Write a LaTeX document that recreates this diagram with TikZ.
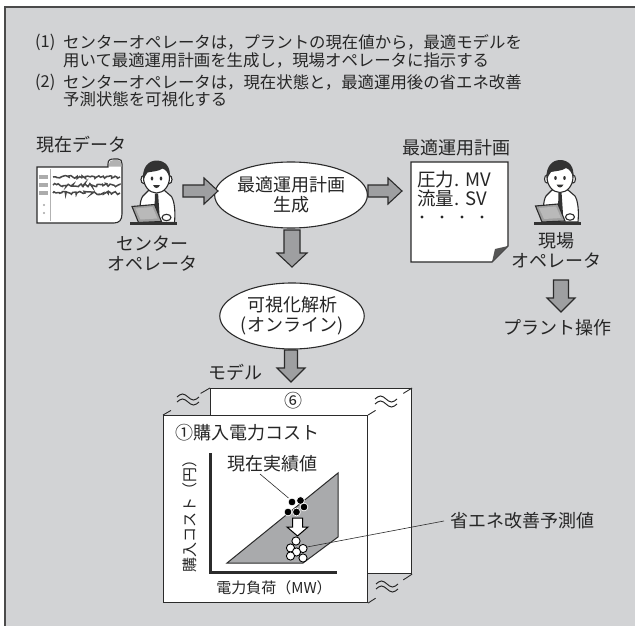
\documentclass[tikz,border=0pt]{standalone}
\usepackage{fontspec}
\setmainfont{Noto Sans CJK JP}
\usetikzlibrary{shapes.geometric,calc,decorations.pathmorphing}
\definecolor{bg}{HTML}{D2D3D5}
\definecolor{ink}{HTML}{2B2B2B}
\definecolor{txt}{HTML}{262626}
\definecolor{arrowfill}{HTML}{9E9FA1}
\definecolor{slab}{HTML}{A9AAAC}
\definecolor{hair}{HTML}{333333}

% block arrows (tail x, centre y, tip x) and (centre x, top y, tip y, shaft half, head half)
\newcommand\rightblock[3]{%
  \draw[blk] (#1,#2-6) -- (#3-14,#2-6) -- (#3-14,#2-13) -- (#3,#2)
    -- (#3-14,#2+13) -- (#3-14,#2+6) -- (#1,#2+6) -- cycle;}
\newcommand\downblock[5]{%
  \draw[blk] (#1-#4,#2) -- (#1+#4,#2) -- (#1+#4,#3-14) -- (#1+#5,#3-14)
    -- (#1,#3) -- (#1-#5,#3-14) -- (#1-#4,#3-14) -- cycle;}
% break mark: two small waves
\newcommand\brkmark[2]{%
  \draw[ink, line width=1pt] (#1-11,#2-1) sin (#1-5.5,#2-4) cos (#1,#2-1) sin (#1+5.5,#2+2) cos (#1+11,#2-1);
  \draw[ink, line width=1pt] (#1-11,#2+4) sin (#1-5.5,#2+1) cos (#1,#2+4) sin (#1+5.5,#2+7) cos (#1+11,#2+4);}

\tikzset{
  ln/.style={draw=ink, line width=1.1pt},
  blk/.style={draw=ink, line width=1.1pt, fill=arrowfill, line join=miter},
  lbl/.style={font=\fontsize{18}{20}\selectfont, text=txt, inner sep=0pt, align=center},
  doctxt/.style={font=\fontsize{18.5}{18}\selectfont, text=txt, inner sep=0pt, anchor=west},
  headtxt/.style={font=\fontsize{16.4}{18}\selectfont, text=txt, inner sep=0pt, anchor=west},
  smalltxt/.style={font=\fontsize{15}{17}\selectfont, text=txt, inner sep=0pt},
  oval/.style={ellipse, draw=ink, line width=1.1pt, fill=white, inner sep=0pt,
    font=\fontsize{18}{20}\selectfont, text=txt, align=center},
  panel/.style={draw=ink, line width=1.1pt, fill=white, inner sep=0pt, anchor=north west},
  wave/.style={draw=hair!90, line width=1.5pt, decorate,
    decoration={random steps, segment length=1.6pt, amplitude=1.7pt}},
  operator/.pic={
    % shirt
    \draw[ln, fill=white] (-8,13) -- (-14,19) .. controls (-17,24) and (-17,34) .. (-16,45)
      -- (18,45) .. controls (19,34) and (18,24) .. (15,19) -- (8,13) -- cycle;
    % tie
    \fill[hair] (-1.6,16) -- (1.6,16) -- (3,37) -- (0.5,41) -- (-2,37) -- cycle;
    % ears and face
    \draw[ln, fill=white] (-13,2) ellipse (2.5 and 4);
    \draw[ln, fill=white] (13,2) ellipse (2.5 and 4);
    \draw[ln, fill=white] (0,0) ellipse (13 and 15.5);
    % hair
    \fill[hair] (-13,3) .. controls (-15,-10) and (-8,-17) .. (0,-17)
      .. controls (9,-17) and (15,-10) .. (13,1)
      .. controls (12,-5) and (9,-8) .. (6,-9)
      .. controls (2,-6) and (-5,-6) .. (-9,-5)
      .. controls (-11,-3) and (-12,0) .. (-13,3) -- cycle;
    % eyes and mouth
    \fill[hair] (-4.5,1) ellipse (1.3 and 2);
    \fill[hair] (4.5,1) ellipse (1.3 and 2);
    \fill[hair] (-3.5,7.5) .. controls (-2,11.5) and (2,11.5) .. (3.5,7.5) -- cycle;
    % laptop lid seen from behind
    \draw[ln, fill=gray!75] (-24.5,29) -- (-2,27) -- (5,44) -- (-18,45) -- cycle;
    \fill[gray!55] (-21,31) -- (-4,29.5) -- (1,41) -- (-16,42) -- cycle;
    % hand
    \draw[ln, fill=white] (10,40) ellipse (4.5 and 3.2);
    % desk edge
    \fill[hair] (-26.5,44.5) rectangle (20.5,47.5);
  }
}

\begin{document}
\begin{tikzpicture}[x=1pt, y=-1pt]
\pgfmathsetseed{11}
\useasboundingbox (0,0) rectangle (635,626);

% framed grey ground
\fill[bg] (5,7) rectangle (635,626);
\draw[draw=ink!85, line width=1.4pt] (5,626) -- (5,7) -- (635,7);

% ---- numbered statements ----
\node[headtxt] (n1) at (35,42) {(1)};
\node[headtxt] (t1) at (63,42) {センターオペレータは，プラントの現在値から，最適モデルを};
\node[headtxt] (t1b) at (63,60) {用いて最適運用計画を生成し，現場オペレータに指示する};
\node[headtxt] (n2) at (35,82) {(2)};
\node[headtxt] (t2) at (63,82) {センターオペレータは，現在状態と，最適運用後の省エネ改善};
\node[headtxt] (t2b) at (63,99) {予測状態を可視化する};

% ---- current data sheet ----
\node[lbl, anchor=west] (datalbl) at (36,145) {現在データ};
\draw[ln, fill=white] (37,167) -- (108,167) -- (108,164)
  .. controls (108,160) and (110,159) .. (114,159) -- (118,159)
  .. controls (121,159) and (122,161) .. (122,164) -- (122,214)
  .. controls (122,220) and (119,223) .. (114,223) -- (37,223) -- cycle;
\fill[gray!60] (109,166.5) -- (109,164) .. controls (109,161) and (111,160) .. (114,160)
  -- (118,160) .. controls (120.5,160) and (121.5,162) .. (121.5,165) -- (121.5,166.5) -- cycle;
\draw[gray!60, line width=0.8pt] (50,169) -- (50,221);
\foreach \yy in {177,185,193} {
  \draw[wave] (53,\yy) -- (120,\yy);
  \fill[gray!65] (39,\yy-2) rectangle (48,\yy+2);
}
\fill[gray!70] (44,205) circle (1.1);
\fill[gray!70] (44,213) circle (1.1);

% ---- centre operator ----
\pic (cop) at (156.5,177.5) {operator};
\node[lbl] (coplbl) at (152,254) {センター\\オペレータ};

% ---- plan generation ----
\node[oval, minimum width=134pt, minimum height=66pt] (gen) at (291,195) {最適運用計画\\生成};
\rightblock{183}{191}{218}
\rightblock{368}{191}{402}

% ---- plan sheet ----
\node[lbl] (planlbl) at (456,148) {最適運用計画};
\draw[ln, fill=white] (411,162) -- (508,162) -- (508,246) -- (492,262) -- (411,262) -- cycle;
\fill[ink!80] (508,246) -- (492,262) -- (495,249) -- cycle;
\node[doctxt] (mv) at (417,180) {圧力.\hspace{6pt}MV};
\node[doctxt] (sv) at (417,198) {流量.\hspace{6pt}SV};
\foreach \xx in {422,442,462,482} \fill[txt] (\xx,217) circle (1.7);

% ---- field operator ----
\pic (fop) at (560,177) {operator};
\node[lbl] (foplbl) at (556,250.5) {現場\\オペレータ};
\downblock{561}{280}{312}{7.5}{14}
\node[lbl] (plant) at (557,328) {プラント操作};

% ---- visual analysis ----
\downblock{292}{230}{267}{8}{15}
\node[oval, minimum width=130pt, minimum height=66pt] (viz) at (292,316) {可視化解析\\(オンライン)};
\downblock{291}{350}{382}{6.5}{14}
\node[lbl] (model) at (235,372) {モデル};

% ---- model sheets ----
\node[panel, minimum width=201pt, minimum height=185pt] (back) at (210,388) {};
\node[lbl] (six) at (293,401) {⑥};
\node[panel, minimum width=204pt, minimum height=187pt] (front) at (163,415) {};

% depth edges with break marks
\draw[ln, line width=0.9pt] (front.north west) -- ($(front.north west)!0.17!(back.north west)$);
\draw[ln, line width=0.9pt] ($(front.north west)!0.8!(back.north west)$) -- (back.north west);
\brkmark{188}{398}
\draw[ln, line width=0.9pt] (front.north east) -- ($(front.north east)!0.17!(back.north east)$);
\draw[ln, line width=0.9pt] ($(front.north east)!0.8!(back.north east)$) -- (back.north east);
\brkmark{386}{400}
\draw[ln, line width=0.9pt] (front.south east) -- ($(front.south east)!0.17!(back.south east)$);
\draw[ln, line width=0.9pt] ($(front.south east)!0.8!(back.south east)$) -- (back.south east);
\brkmark{387}{585}

% ---- cost chart ----
\node[lbl, anchor=west] (cost) at (175,433) {①購入電力コスト};
\fill[slab] (227,563) -- (338,473) -- (338,537) -- (303,563) -- cycle;
\draw[ln, line width=1pt, line join=miter] (227,563) -- (338,473) -- (338,537) -- (303,563) -- cycle;
\draw[ink, line width=3pt, line join=miter] (210,453) -- (210,572) -- (337,572);
\node[smalltxt, rotate=90] (ylab) at (190,512) {購入コスト（円）};
\node[smalltxt] (xlab) at (274,588) {電力負荷（MW）};

\node[lbl] (actual) at (272,464) {現在実績値};
\foreach \px/\py in {292/502, 300.5/500.5, 304/507, 288/512, 296.5/512}
  \draw[white, line width=0.7pt, fill=black] (\px,\py) circle (3.9);
\draw[ink, line width=0.6pt] (260,474) -- (288.5,498);

% white down arrow
\draw[draw=black, line width=1pt, fill=white] (292.5,518) -- (302.5,518) -- (302.5,527) -- (308,527)
  -- (297.5,536) -- (287,527) -- (292.5,527) -- cycle;

\foreach \px/\py in {296/541, 290.5/548, 303/548.5, 296.5/552, 290.5/556, 303/558}
  \draw[black, line width=0.9pt, fill=white] (\px,\py) circle (4.1);
\node[lbl, anchor=west] (saving) at (450,521) {省エネ改善予測値};
\draw[ink, line width=0.6pt] (saving.west) ++(-6,0) -- (307,547);
\end{tikzpicture}
\end{document}
